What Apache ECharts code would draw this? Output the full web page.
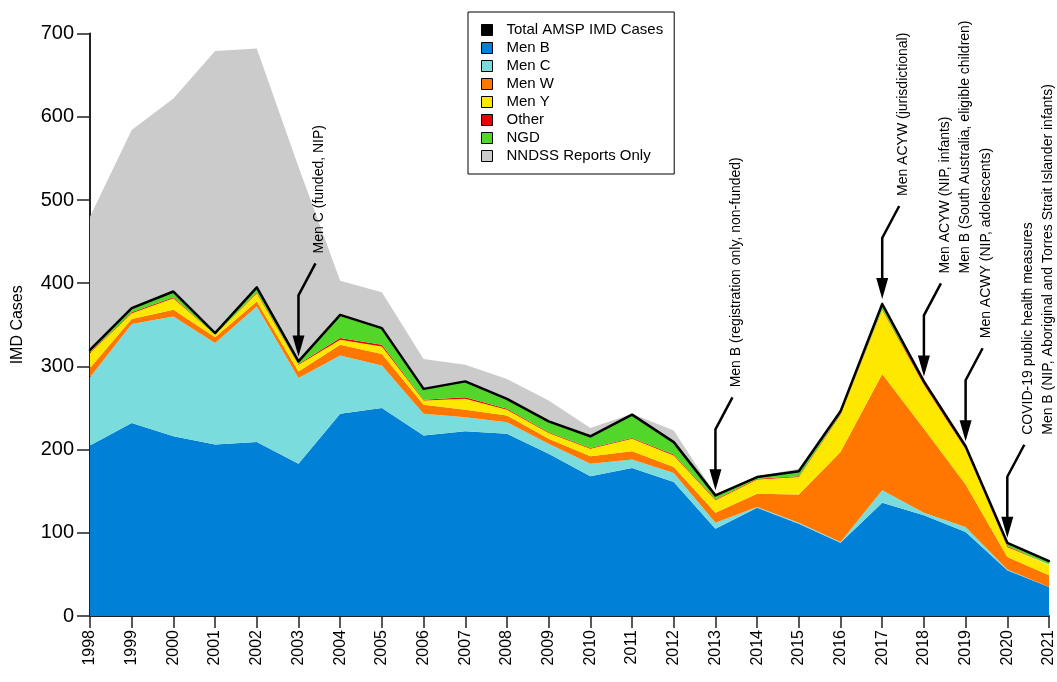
<!DOCTYPE html>
<html>
<head>
<meta charset="utf-8">
<script src="https://cdn.jsdelivr.net/npm/echarts@6/dist/echarts.min.js"></script>
<style>
  html, body { margin: 0; padding: 0; background: #fff; }
  #chart { width: 1057px; height: 682px; }
</style>
</head>
<body>
<div id="chart"></div>
<script>
var years = ['1998', '1999', '2000', '2001', '2002', '2003', '2004', '2005', '2006', '2007', '2008', '2009',
  '2010', '2011', '2012', '2013', '2014', '2015', '2016', '2017', '2018', '2019', '2020', '2021']
var menB = [205, 232, 216, 206, 209, 183, 243, 250, 217, 222, 219, 195, 168, 178, 161, 105, 130, 111, 88, 136, 121, 101, 55, 35]
var menC = [82, 119, 144, 122, 163, 103, 70, 51, 26, 17, 14, 12, 15, 10, 11, 7, 1, 1, 1, 15, 3, 6, 1, 0]
var menW = [11, 6, 8, 7, 6, 8, 13, 14, 11, 9, 8, 6, 9, 10, 7, 12, 16, 34, 108, 140, 101, 51, 15, 14]
var menY = [18, 7, 14, 3, 10, 8, 6, 9, 5, 13, 7, 7, 9, 15, 14, 15, 17, 21, 45, 77, 53, 42, 12, 12]
var other = [1, 1, 1, 0, 1, 1, 2, 2, 1, 2, 1, 1, 1, 1, 1, 1, 1, 1, 1, 1, 2, 1, 1, 1]
var ngd = [3, 5, 7, 2, 6, 3, 28, 20, 13, 19, 12, 13, 14, 28, 15, 5, 2, 6, 3, 6, 2, 3, 4, 4]
var nndss = [160, 214, 232, 339, 287, 234, 41, 43, 36, 20, 24, 25, 10, 1, 14, 1, 1, 3, 2, 3, 2, 1, 1, 0]
var yTicks = [0, 100, 200, 300, 400, 500, 600, 700]

// programme changes marked with arrows
var noteYears = ['2003', '2013', '2017', '2018', '2019', '2020']
var noteLines = [
  ['Men C (funded, NIP)'],
  ['Men B (registration only, non-funded)'],
  ['Men ACYW (jurisdictional)'],
  ['Men ACYW (NIP, infants)', 'Men B (South Australia, eligible children)'],
  ['Men ACWY (NIP, adolescents)'],
  ['COVID-19 public health measures', 'Men B (NIP, Aboriginal and Torres Strait Islander infants)']
]

var total = years.map(function (y, i) {
  return menB[i] + menC[i] + menW[i] + menY[i] + other[i] + ngd[i]
})

var font = '"Liberation Sans", Arial, sans-serif'
var myChart = echarts.init(document.getElementById('chart'))

function area (name, data, color) {
  return {
    name: name,
    type: 'line',
    stack: 'imd',
    data: data,
    color: color,
    symbol: 'none',
    lineStyle: { width: 0 },
    areaStyle: { color: color, opacity: 1 },
    silent: true
  }
}

var option = {
  animation: false,
  grid: { left: 90, right: 5, top: 33.6, bottom: 66 },
  legend: {
    orient: 'vertical',
    left: 468,
    top: 12,
    padding: [10, 11, 10, 13],
    itemGap: 2,
    itemWidth: 11,
    itemHeight: 11,
    icon: 'rect',
    borderColor: '#000',
    borderWidth: 1,
    itemStyle: { borderColor: '#000', borderWidth: 1 },
    textStyle: { fontSize: 15, color: '#000', fontFamily: font, lineHeight: 16, padding: [0, 0, 0, 9] },
    data: ['Total AMSP IMD Cases', 'Men B', 'Men C', 'Men W', 'Men Y', 'Other', 'NGD', 'NNDSS Reports Only']
  },
  xAxis: {
    type: 'category',
    boundaryGap: false,
    data: years,
    axisLine: { lineStyle: { color: '#222', width: 2 } },
    axisTick: { length: 12, interval: 0, lineStyle: { color: '#222', width: 1.5 } },
    axisLabel: { rotate: 90, interval: 0, fontSize: 16, color: '#000', fontFamily: font, margin: 14 }
  },
  yAxis: {
    type: 'value',
    min: yTicks[0],
    max: yTicks[yTicks.length - 1],
    interval: 100,
    name: 'IMD Cases',
    nameLocation: 'middle',
    nameGap: 64,
    nameTextStyle: { fontSize: 16, color: '#000', fontFamily: font },
    splitLine: { show: false },
    axisLine: { show: true, lineStyle: { color: '#222', width: 2 } },
    axisTick: { show: true, length: 13, lineStyle: { color: '#222', width: 1.5 } },
    axisLabel: { fontSize: 20, color: '#000', fontFamily: font, margin: 16 }
  },
  series: [
    area('Men B', menB, '#0080d6'),
    area('Men C', menC, '#7adcdc'),
    area('Men W', menW, '#ff7700'),
    area('Men Y', menY, '#ffe800'),
    area('Other', other, '#ee0000'),
    area('NGD', ngd, '#52d62a'),
    area('NNDSS Reports Only', nndss, '#cbcbcb'),
    {
      name: 'Total AMSP IMD Cases',
      type: 'line',
      data: total,
      color: '#000',
      symbol: 'none',
      lineStyle: { color: '#000', width: 2.5, cap: 'round', join: 'round' },
      z: 5,
      silent: true
    }
  ]
}
myChart.setOption(option)

// arrows and rotated notes placed from the data through the axes
var graphics = []
noteYears.forEach(function (yr, n) {
  var i = years.indexOf(yr)
  var p = myChart.convertToPixel({ gridIndex: 0 }, [yr, total[i]])
  var px = p[0], py = p[1]
  graphics.push({
    type: 'polyline',
    shape: { points: [[px + 17, py - 98], [px, py - 66], [px, py - 22]] },
    style: { stroke: '#000', lineWidth: 2.5, fill: null },
    z: 10
  })
  graphics.push({
    type: 'polygon',
    shape: { points: [[px - 6, py - 26], [px + 6, py - 26], [px, py - 5]] },
    style: { fill: '#000' },
    z: 10
  })
  noteLines[n].forEach(function (t, k) {
    graphics.push({
      type: 'text',
      x: px + 21 + 20 * k,
      y: py - 108,
      rotation: Math.PI / 2,
      style: { text: t, fontSize: 14, fontFamily: font, fill: '#000', align: 'left', verticalAlign: 'middle' },
      z: 10
    })
  })
})
myChart.setOption({ graphic: graphics })
</script>
</body>
</html>
